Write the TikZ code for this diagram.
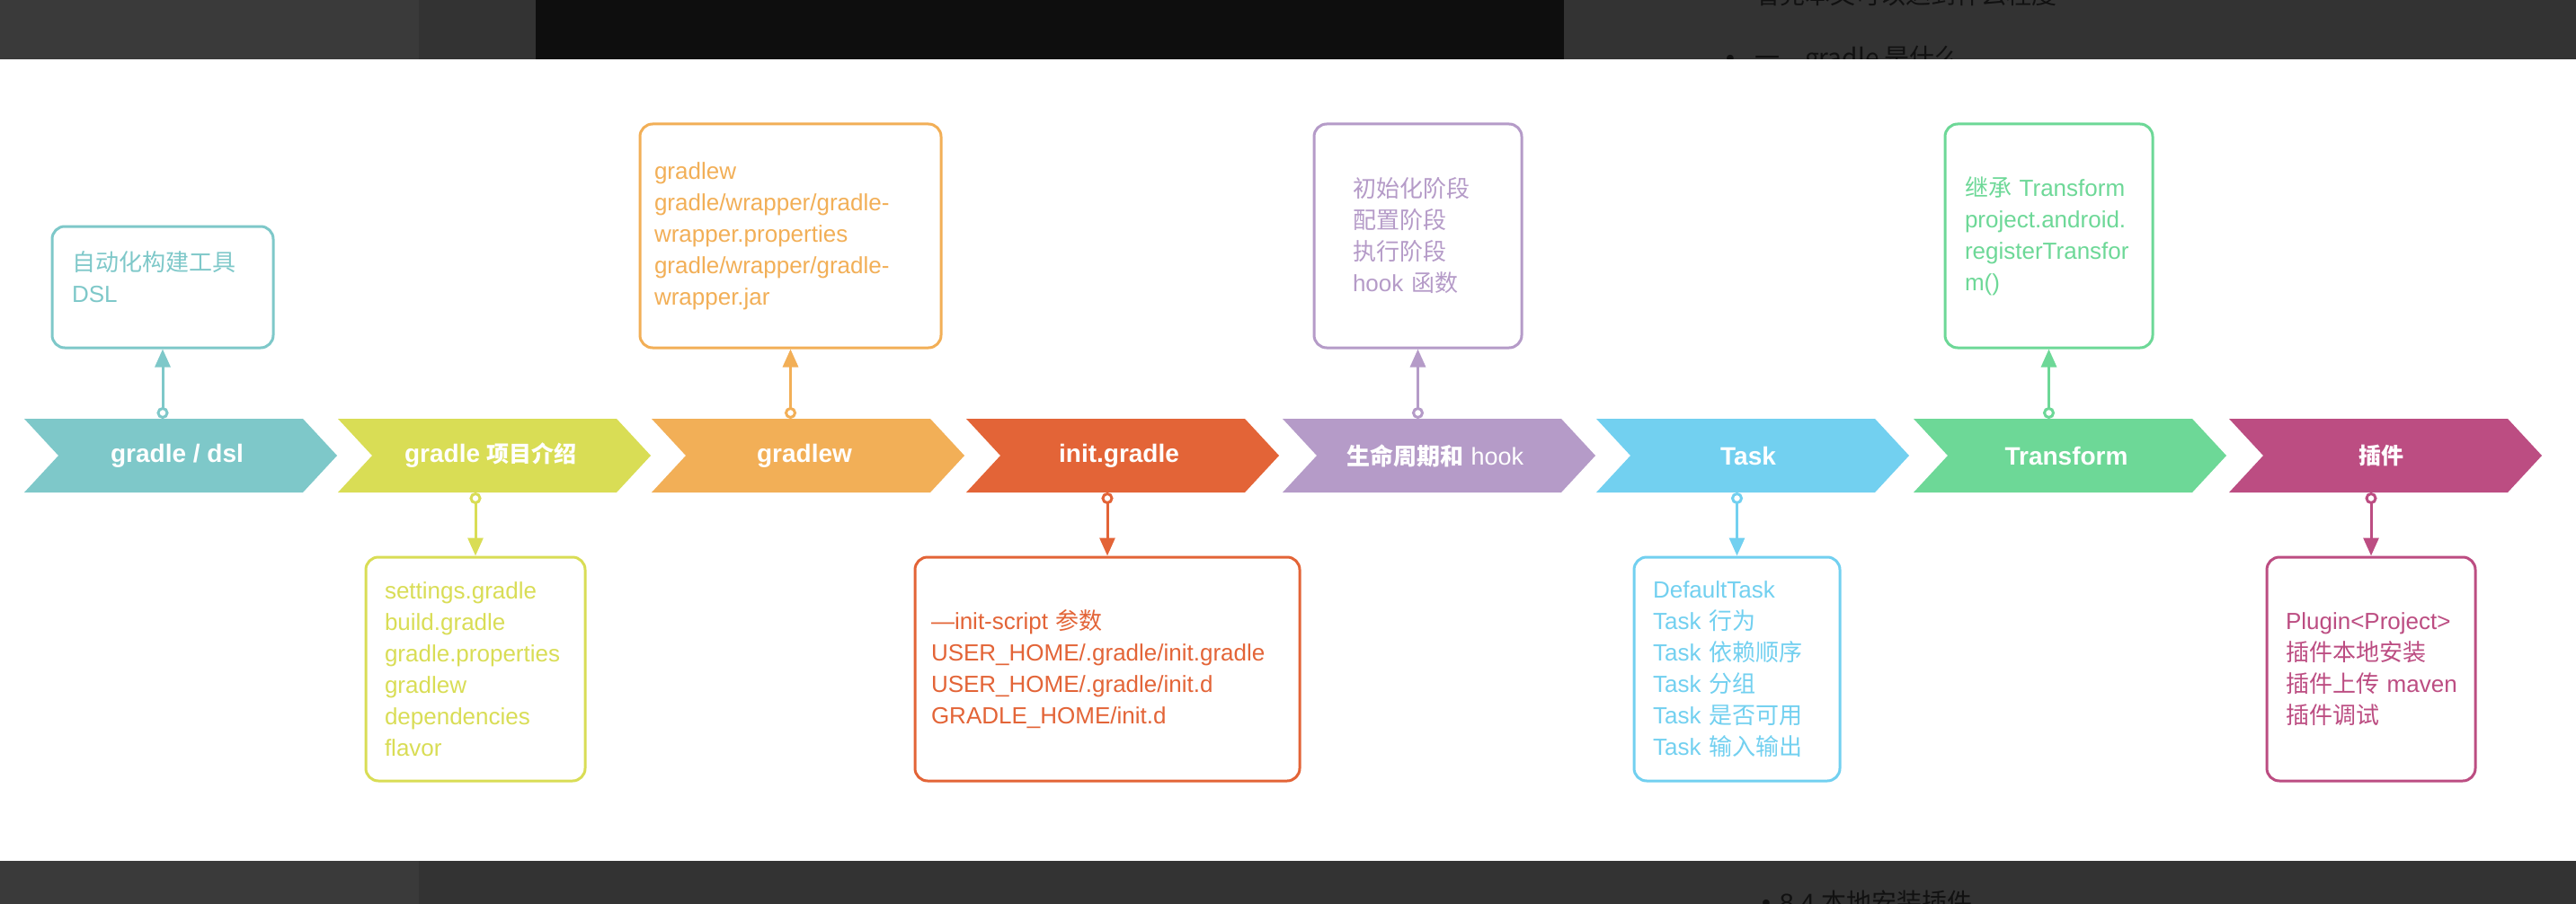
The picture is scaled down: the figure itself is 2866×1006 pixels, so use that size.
\documentclass[tikz,border=0pt]{standalone}
\usepackage{fontspec}
\setmainfont{Liberation Sans}
\newfontfamily\cjkf{Noto Sans CJK SC}
\newcommand\zh[1]{{\cjkf #1}}
\newcommand\zhb[1]{{\cjkf\bfseries\fontsize{25}{28}\selectfont #1}}
\usetikzlibrary{arrows.meta}
\definecolor{cteal}{HTML}{7EC8C9}
\definecolor{cyel}{HTML}{D9DD55}
\definecolor{corg}{HTML}{F2AF57}
\definecolor{cred}{HTML}{E36437}
\definecolor{cpur}{HTML}{B59BC8}
\definecolor{csky}{HTML}{72D0F0}
\definecolor{cgrn}{HTML}{6DD897}
\definecolor{cmag}{HTML}{BC4D82}
\definecolor{bandA}{HTML}{3A3A3A}
\definecolor{bandB}{HTML}{333333}
\definecolor{bandC}{HTML}{0E0E0E}
\definecolor{dimtext}{HTML}{111111}
\newcommand\chevshape[2]{\fill[#2] (#1,466) -- ({#1+310},466) -- ({#1+348},507) -- ({#1+310},548) -- (#1,548) -- ({#1+38},507) -- cycle;}
\tikzset{
  lab/.style={text=white, font=\bfseries\fontsize{28}{30}\selectfont, inner sep=0pt},
  box/.style n args={3}{draw=#1, text=#1, text width=#2pt, inner xsep=#3pt, inner ysep=0pt,
    line width=3pt, rounded corners=14pt, fill=white, align=left, minimum height=249pt,
    font=\fontsize{26}{35}\selectfont},
  conn/.style={draw=#1, line width=3pt,
    {Circle[open,length=13pt,width=13pt]}-{Triangle[length=20pt,width=17pt]}},
  bandtext/.style={anchor=west, text=dimtext, font=\fontsize{28}{30}\selectfont, inner sep=0pt}
}
\begin{document}
\begin{tikzpicture}[x=1pt,y=-1pt]
\useasboundingbox (0,0) rectangle (2866,1006);
\fill[white] (0,0) rectangle (2866,1006);
% dark bands of the page behind
\fill[bandB] (0,0) rectangle (2866,66);
\fill[bandA] (0,0) rectangle (466,66);
\fill[bandC] (596,0) rectangle (1740,66);
\fill[bandB] (0,958) rectangle (2866,1006);
\fill[bandA] (0,958) rectangle (466,1006);
\begin{scope}
\clip (0,0) rectangle (2866,66);
\node[bandtext] (tl1) at (1920,-6) {•\hspace{22pt}\zh{看完本文可以达到什么程度}};
\node[bandtext] (tl2) at (1920,66) {•\hspace{22pt}\zh{一、gradle 是什么}};
\end{scope}
\begin{scope}
\clip (0,958) rectangle (2866,1006);
\node[bandtext] (bl1) at (1960,1004) {•\hspace{10pt}8.4 \zh{本地安装插件}};
\end{scope}
% chevrons
\chevshape{27}{cteal}
\chevshape{376}{cyel}
\chevshape{725}{corg}
\chevshape{1075}{cred}
\chevshape{1427}{cpur}
\chevshape{1776}{csky}
\chevshape{2129}{cgrn}
\chevshape{2480}{cmag}
\node[lab] (c1) at (197,507) {gradle / dsl};
\node[lab] (c2) at (546,507) {gradle \zhb{项目介绍}};
\node[lab] (c3) at (895,507) {gradlew};
\node[lab] (c4) at (1245,507) {init.gradle};
\node[lab] (c5) at (1597,507) {{\cjkf\bfseries\fontsize{26}{28}\selectfont 生命周期和} {\mdseries\fontsize{27}{28}\selectfont hook}};
\node[lab] (c6) at (1945,507) {Task};
\node[lab] (c7) at (2299,507) {Transform};
\node[lab] (c8) at (2649,507) {\zhb{插件}};
% boxes
\node[box={cteal}{202}{22}, minimum height=135pt] (b1) at (181,319.5) {\zh{自动化构建工具}\\DSL\\[-12pt]\mbox{}};
\node[box={cyel}{202}{21}] (b2) at (529,744.5) {settings.gradle\\build.gradle\\gradle.properties\\gradlew\\dependencies\\flavor};
\node[box={corg}{303}{16}] (b3) at (879.5,262.5) {gradlew\\gradle/wrapper/gradle-\\wrapper.properties\\gradle/wrapper/gradle-\\wrapper.jar};
\node[box={cred}{392}{18}] (b4) at (1232,744.5) {—init-script \zh{参数}\\USER\_HOME/.gradle/init.gradle\\USER\_HOME/.gradle/init.d\\GRADLE\_HOME/init.d};
\node[box={cpur}{145}{43}] (b5) at (1577.5,262.5) {\zh{初始化阶段}\\\zh{配置阶段}\\\zh{执行阶段}\\\mbox{hook \zh{函数}}};
\node[box={csky}{187}{21}] (b6) at (1932.5,744.5) {DefaultTask\\\mbox{Task \zh{行为}}\\\mbox{Task \zh{依赖顺序}}\\\mbox{Task \zh{分组}}\\\mbox{Task \zh{是否可用}}\\\mbox{Task \zh{输入输出}}};
\node[box={cgrn}{187}{22}] (b7) at (2279.5,262.5) {\mbox{\zh{继承} Transform}\\project.android.\\registerTransfor\\m()};
\node[box={cmag}{190}{21}] (b8) at (2638,744.5) {Plugin<Project>\\\zh{插件本地安装}\\\mbox{\zh{插件上传} maven}\\\zh{插件调试}};
% connector start points on the chevrons
\coordinate (t1) at (181,466);
\coordinate (t2) at (529,548);
\coordinate (t3) at (879.5,466);
\coordinate (t4) at (1232,548);
\coordinate (t5) at (1577.5,466);
\coordinate (t6) at (1932.5,548);
\coordinate (t7) at (2279.5,466);
\coordinate (t8) at (2638,548);
\draw[conn=cteal] (t1) -- (b1.south);
\draw[conn=cyel] (t2) -- (b2.north);
\draw[conn=corg] (t3) -- (b3.south);
\draw[conn=cred] (t4) -- (b4.north);
\draw[conn=cpur] (t5) -- (b5.south);
\draw[conn=csky] (t6) -- (b6.north);
\draw[conn=cgrn] (t7) -- (b7.south);
\draw[conn=cmag] (t8) -- (b8.north);
\end{tikzpicture}
\end{document}
